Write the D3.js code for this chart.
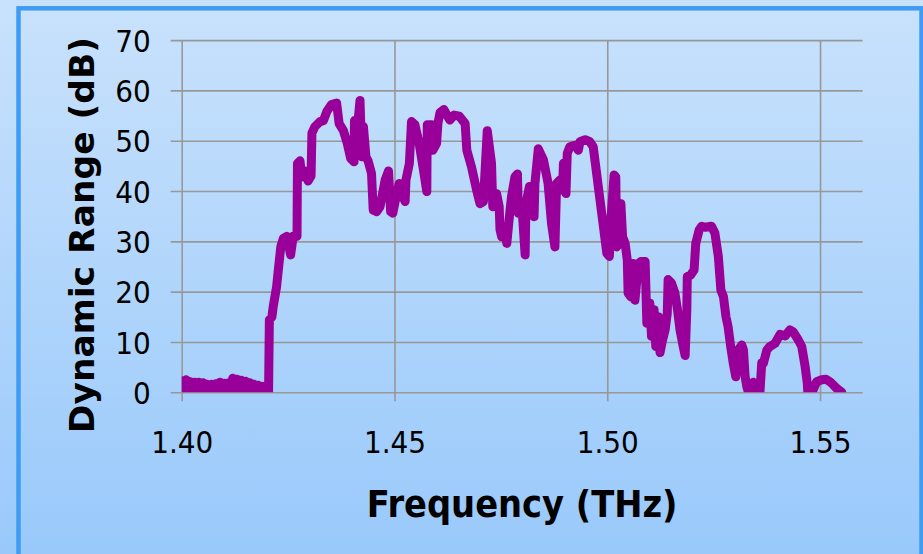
<!DOCTYPE html>
<html>
<head>
<meta charset="utf-8">
<script src="https://cdn.jsdelivr.net/npm/d3@7"></script>
<style>
  html, body { margin: 0; padding: 0; background: #c4dffc; }
  svg { display: block; }
  .tick text { font-family: "DejaVu Sans Condensed", "DejaVu Sans", sans-serif; font-stretch: condensed; }
</style>
</head>
<body>
<script>
// ---- data ----
const frequencyTHz = [
  1.4000, 1.4005, 1.4010, 1.4015, 1.4020, 1.4025, 1.4030, 1.4035, 1.4040, 1.4045,
  1.4050, 1.4055, 1.4060, 1.4065, 1.4070, 1.4075, 1.4080, 1.4085, 1.4090, 1.4095,
  1.4100, 1.4105, 1.4110, 1.4115, 1.4120, 1.4125, 1.4130, 1.4135, 1.4140, 1.4145,
  1.4150, 1.4155, 1.4160, 1.4165, 1.4170, 1.4175, 1.4180, 1.4185, 1.4190, 1.4195,
  1.4200, 1.4204, 1.4206, 1.4212, 1.4215, 1.4223, 1.4227, 1.4233, 1.4239, 1.4247,
  1.4256, 1.4262, 1.4271, 1.4272, 1.4278, 1.4282, 1.4290, 1.4297, 1.4304, 1.4306,
  1.4313, 1.4325, 1.4333, 1.4341, 1.4352, 1.4364, 1.4370, 1.4380, 1.4389, 1.4397,
  1.4405, 1.4406, 1.4411, 1.4419, 1.4423, 1.4427, 1.4433, 1.4438, 1.4446, 1.4450,
  1.4458, 1.4466, 1.4472, 1.4478, 1.4486, 1.4491, 1.4496, 1.4504, 1.4511, 1.4517,
  1.4525, 1.4527, 1.4535, 1.4540, 1.4548, 1.4558, 1.4568, 1.4576, 1.4577, 1.4587,
  1.4590, 1.4599, 1.4602, 1.4607, 1.4616, 1.4630, 1.4640, 1.4652, 1.4666, 1.4670,
  1.4681, 1.4693, 1.4701, 1.4709, 1.4718, 1.4728, 1.4731, 1.4740, 1.4746, 1.4748,
  1.4752, 1.4757, 1.4764, 1.4770, 1.4775, 1.4783, 1.4789, 1.4791, 1.4799, 1.4807,
  1.4809, 1.4817, 1.4825, 1.4828, 1.4830, 1.4838, 1.4850, 1.4861, 1.4869, 1.4877,
  1.4881, 1.4889, 1.4895, 1.4897, 1.4903, 1.4906, 1.4912, 1.4924, 1.4932, 1.4936,
  1.4948, 1.4959, 1.4967, 1.4975, 1.4983, 1.4991, 1.4999, 1.5005, 1.5008, 1.5016,
  1.5020, 1.5022, 1.5028, 1.5032, 1.5036, 1.5042, 1.5047, 1.5049, 1.5055, 1.5060,
  1.5065, 1.5073, 1.5079, 1.5089, 1.5093, 1.5099, 1.5100, 1.5104, 1.5110, 1.5114,
  1.5120, 1.5124, 1.5130, 1.5136, 1.5141, 1.5143, 1.5151, 1.5159, 1.5165, 1.5171,
  1.5177, 1.5183, 1.5187, 1.5188, 1.5196, 1.5204, 1.5208, 1.5216, 1.5222, 1.5230,
  1.5245, 1.5253, 1.5261, 1.5267, 1.5273, 1.5279, 1.5284, 1.5290, 1.5296, 1.5302,
  1.5308, 1.5316, 1.5320, 1.5324, 1.5328, 1.5335, 1.5343, 1.5350, 1.5358, 1.5363,
  1.5367, 1.5375, 1.5382, 1.5394, 1.5406, 1.5418, 1.5429, 1.5437, 1.5449, 1.5457,
  1.5465, 1.5470, 1.5472, 1.5484, 1.5492, 1.5504, 1.5514, 1.5523, 1.5531, 1.5539,
  1.5551
];
const dynamicRangeDB = [
   2.3, -0.6,  2.5, -0.8,  2.1, -0.5,  2.0, -0.7,  2.0, -0.6,
   1.9, -0.8,  1.6, -0.5,  1.6, -0.7,  1.7, -0.6,  2.0, -0.8,
   1.8, -0.5,  1.9, -0.7,  2.8, -0.6,  2.6, -0.8,  2.4, -0.5,
   2.2, -0.7,  1.9, -0.6,  1.6, -0.8,  1.4, -0.6,  1.2, -0.5,
   1.0, -0.5, 14.4, 15.0, 17.0, 21.0, 24.3, 29.0, 30.6, 31.0,
  27.3, 31.0, 31.0, 45.5, 46.0, 42.8, 44.0, 42.0, 43.0, 51.5,
  52.8, 53.8, 54.0, 55.8, 57.2, 57.5, 53.4, 52.0, 49.5, 46.5,
  45.8, 54.0, 50.8, 58.0, 46.8, 52.8, 46.8, 46.0, 43.5, 36.2,
  35.9, 36.9, 39.5, 42.2, 44.0, 35.9, 35.6, 38.9, 41.5, 39.5,
  37.9, 42.2, 45.5, 53.8, 53.2, 49.5, 44.2, 39.9, 53.2, 53.2,
  48.1, 49.5, 53.4, 55.6, 56.2, 54.1, 55.1, 54.9, 53.4, 48.1,
  44.8, 40.2, 37.5, 37.9, 52.0, 45.5, 36.9, 39.5, 36.9, 32.3,
  30.9, 32.9, 29.6, 34.9, 38.9, 42.8, 43.4, 35.6, 37.5, 27.3,
  37.5, 40.9, 36.2, 34.9, 41.5, 48.4, 46.2, 41.5, 33.6, 28.9,
  41.5, 42.2, 40.2, 45.5, 39.5, 47.5, 48.8, 49.1, 48.1, 49.8,
  50.2, 49.8, 48.8, 43.5, 38.2, 32.9, 27.6, 27.0, 33.6, 43.2,
  42.8, 28.9, 29.6, 37.5, 30.9, 29.6, 26.3, 19.7, 19.0, 25.6,
  18.3, 25.6, 26.0, 26.0, 13.7, 13.7, 17.7, 11.1, 16.4,  9.1,
  15.0,  7.9, 10.4, 12.4, 15.7, 22.4, 21.7, 19.7, 16.4, 12.4,
   9.7,  7.3, 16.4, 23.0, 23.3, 24.3, 29.6, 32.3, 33.0, 32.8,
  33.0, 31.6, 27.0, 20.3, 19.0, 15.0, 13.0,  9.1,  5.8,  3.1,
   8.4,  9.4,  8.4,  3.1,  1.1, -1.0,  2.0, -1.0, -1.0,  5.8,
   5.8,  8.4,  9.1,  9.7, 11.5, 11.2, 12.4, 12.0, 10.4,  9.1,
   5.1,  1.8, -1.0,  0.5,  2.1,  2.5,  2.6,  2.1,  1.5,  0.8,
   0.0
];
const xTickValues = [1.40, 1.45, 1.50, 1.55];
const xTickLabels = ["1.40", "1.45", "1.50", "1.55"];
const yTickValues = [0, 10, 20, 30, 40, 50, 60, 70];
const xAxisTitle = "Frequency (THz)";
const yAxisTitle = "Dynamic Range (dB)";

// ---- layout ----
const W = 923, H = 554;
const plot = { left: 181.7, right: 862.6, top: 40.1, bottom: 392.3 };

const svg = d3.select("body").append("svg").attr("width", W).attr("height", H);
const defs = svg.append("defs");
const grad = defs.append("linearGradient").attr("id", "bg")
  .attr("x1", 0).attr("y1", 0).attr("x2", 0).attr("y2", 1);
grad.append("stop").attr("offset", "0%").attr("stop-color", "#c9e2fc");
grad.append("stop").attr("offset", "100%").attr("stop-color", "#99c9fb");
defs.append("clipPath").attr("id", "plotclip").append("rect")
  .attr("x", plot.left).attr("y", plot.top)
  .attr("width", plot.right - plot.left).attr("height", plot.bottom - plot.top);

svg.append("rect").attr("x", 0).attr("y", 0).attr("width", W).attr("height", H).attr("fill", "url(#bg)");
svg.append("rect").attr("x", 18.5).attr("y", 8.3).attr("width", 903).attr("height", 570)
  .attr("fill", "none").attr("stroke", "#3f9cf5").attr("stroke-width", 4.5);

const x = d3.scaleLinear().domain([1.40, 1.56]).range([plot.left, plot.right]);
const y = d3.scaleLinear().domain([0, 70]).range([plot.bottom, plot.top]);

const gridColor = "#989898";

// y axis with horizontal gridlines (extend 11px left of the axis as tick marks)
const yAxisG = svg.append("g").attr("transform", `translate(${plot.left - 11},0)`)
  .call(d3.axisLeft(y).tickValues(yTickValues).tickFormat(d3.format("d"))
    .tickSize(-(plot.right - plot.left + 11)).tickPadding(20));
yAxisG.select(".domain").remove();
yAxisG.selectAll(".tick line").attr("stroke", gridColor).attr("stroke-width", 1.6);
yAxisG.selectAll(".tick text").attr("font-size", 31).attr("fill", "#000").attr("dy", "0.36em");

// x axis with vertical gridlines (extend 9px below zero as tick marks)
const xAxisG = svg.append("g").attr("transform", `translate(0,${plot.bottom + 9})`)
  .call(d3.axisBottom(x).tickValues(xTickValues).tickFormat((d, i) => xTickLabels[i])
    .tickSize(-(plot.bottom + 9 - plot.top)).tickPadding(30));
xAxisG.select(".domain").remove();
xAxisG.selectAll(".tick line").attr("stroke", gridColor).attr("stroke-width", 1.6);
xAxisG.selectAll(".tick text").attr("font-size", 31).attr("fill", "#000");

// data line
const pts = frequencyTHz.map((f, i) => [f, dynamicRangeDB[i]]);
svg.append("path").datum(pts)
  .attr("clip-path", "url(#plotclip)")
  .attr("fill", "none").attr("stroke", "#990099").attr("stroke-width", 9)
  .attr("stroke-linejoin", "round").attr("stroke-linecap", "round")
  .attr("d", d3.line().x(d => x(d[0])).y(d => y(d[1])));

// axis titles
svg.append("text").attr("x", (plot.left + plot.right) / 2).attr("y", 517)
  .attr("text-anchor", "middle")
  .attr("font-family", '"DejaVu Sans Condensed", "DejaVu Sans", sans-serif').attr("font-stretch", "condensed")
  .attr("font-weight", "bold").attr("font-size", 37.5).attr("fill", "#000").text(xAxisTitle);
svg.append("text").attr("transform", "translate(94,235) rotate(-90)")
  .attr("text-anchor", "middle")
  .attr("font-family", '"DejaVu Sans", sans-serif')
  .attr("font-weight", "bold").attr("font-size", 34.5).attr("fill", "#000").text(yAxisTitle);
</script>
</body>
</html>
